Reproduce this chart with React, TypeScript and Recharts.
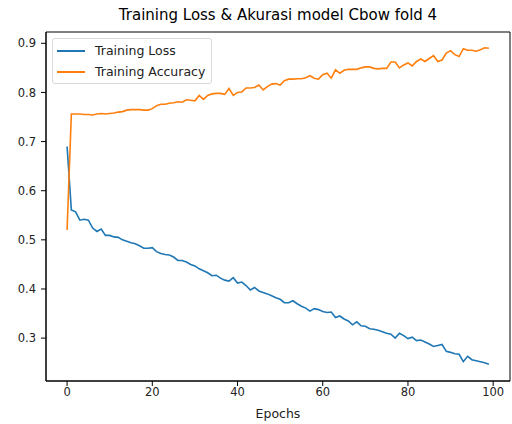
import React from "react";
import {
  LineChart,
  Line,
  XAxis,
  YAxis,
  ReferenceArea,
} from "recharts";

// Per-epoch values
const trainingLoss = [
  0.690, 0.561, 0.557, 0.540, 0.542, 0.540, 0.524, 0.517, 0.522, 0.509,
  0.509, 0.506, 0.505, 0.500, 0.497, 0.494, 0.492, 0.488, 0.483, 0.483,
  0.484, 0.476, 0.472, 0.470, 0.469, 0.465, 0.458, 0.458, 0.455, 0.450,
  0.447, 0.441, 0.437, 0.433, 0.427, 0.428, 0.422, 0.418, 0.416, 0.423,
  0.412, 0.414, 0.407, 0.398, 0.403, 0.396, 0.393, 0.390, 0.386, 0.382,
  0.379, 0.372, 0.372, 0.376, 0.370, 0.365, 0.361, 0.355, 0.360, 0.358,
  0.354, 0.352, 0.353, 0.342, 0.345, 0.339, 0.335, 0.327, 0.333, 0.325,
  0.324, 0.319, 0.318, 0.316, 0.313, 0.310, 0.308, 0.300, 0.310, 0.305,
  0.299, 0.302, 0.295, 0.296, 0.292, 0.288, 0.283, 0.285, 0.287, 0.273,
  0.271, 0.268, 0.267, 0.252, 0.263, 0.256, 0.254, 0.252, 0.250, 0.247,
];

const trainingAccuracy = [
  0.520, 0.756, 0.756, 0.756, 0.755, 0.755, 0.754, 0.756, 0.757, 0.756,
  0.757, 0.758, 0.760, 0.761, 0.764, 0.765, 0.765, 0.765, 0.764, 0.764,
  0.767, 0.773, 0.776, 0.776, 0.778, 0.779, 0.781, 0.780, 0.785, 0.784,
  0.783, 0.794, 0.786, 0.794, 0.797, 0.798, 0.798, 0.796, 0.808, 0.794,
  0.800, 0.801, 0.809, 0.809, 0.810, 0.815, 0.805, 0.812, 0.817, 0.818,
  0.815, 0.824, 0.827, 0.827, 0.828, 0.828, 0.830, 0.834, 0.829, 0.827,
  0.836, 0.839, 0.829, 0.846, 0.839, 0.845, 0.847, 0.847, 0.847, 0.850,
  0.852, 0.852, 0.849, 0.848, 0.849, 0.849, 0.862, 0.862, 0.850, 0.856,
  0.860, 0.854, 0.863, 0.868, 0.863, 0.869, 0.875, 0.863, 0.866, 0.880,
  0.885, 0.877, 0.873, 0.889, 0.886, 0.886, 0.884, 0.887, 0.891, 0.890,
];

const xTicks = [0, 20, 40, 60, 80, 100];
const yTicks = [0.3, 0.4, 0.5, 0.6, 0.7, 0.8, 0.9];

const seriesNames = ["Training Loss", "Training Accuracy"];
const seriesColors = ["#1f77b4", "#ff7f0e"];

const data = trainingLoss.map((loss, i) => ({
  epoch: i,
  loss,
  acc: trainingAccuracy[i],
}));

const X_DOMAIN: [number, number] = [-4.95, 103.95];
const Y_DOMAIN: [number, number] = [0.2127, 0.923];
const FONT = "DejaVu Sans";

const App: React.FC = () => {
  return (
    <div
      style={{
        position: "absolute",
        left: 0,
        top: 0,
        width: 512,
        height: 424,
        background: "#fff",
        fontFamily: FONT,
      }}
    >
      {/* Title */}
      <div
        style={{
          position: "absolute",
          left: 46,
          width: 464,
          top: 6,
          textAlign: "center",
          fontSize: 15,
          color: "#000",
        }}
      >
        Training Loss &amp; Akurasi model Cbow fold 4
      </div>

      <LineChart
        width={512}
        height={424}
        data={data}
        margin={{ top: 32, right: 2, left: 0, bottom: 0 }}
      >
        <XAxis
          dataKey="epoch"
          type="number"
          domain={X_DOMAIN}
          ticks={xTicks}
          allowDataOverflow
          height={43}
          stroke="#000"
          tickSize={5}
          tickMargin={2}
          tick={{ fill: "#222", fontSize: 11.5, fontFamily: FONT }}
          label={{
            value: "Epochs",
            position: "insideBottom",
            offset: 6,
            fill: "#222",
            fontSize: 12.5,
            fontFamily: FONT,
          }}
        />
        <YAxis
          type="number"
          domain={Y_DOMAIN}
          ticks={yTicks}
          allowDataOverflow
          width={46}
          stroke="#000"
          tickSize={5}
          tickMargin={5}
          tickFormatter={(v: number) => v.toFixed(1)}
          tick={{ fill: "#222", fontSize: 11.5, fontFamily: FONT }}
        />
        {/* axes frame */}
        <ReferenceArea
          x1={X_DOMAIN[0]}
          x2={X_DOMAIN[1]}
          y1={Y_DOMAIN[0]}
          y2={Y_DOMAIN[1]}
          fill="none"
          fillOpacity={0}
          stroke="#000"
          strokeOpacity={1}
          strokeWidth={1}
        />
        <Line
          type="linear"
          dataKey="loss"
          name={seriesNames[0]}
          stroke={seriesColors[0]}
          strokeWidth={1.6}
          dot={false}
          isAnimationActive={false}
        />
        <Line
          type="linear"
          dataKey="acc"
          name={seriesNames[1]}
          stroke={seriesColors[1]}
          strokeWidth={1.6}
          dot={false}
          isAnimationActive={false}
        />
      </LineChart>

      {/* Legend, matplotlib style */}
      <div
        style={{
          position: "absolute",
          left: 52,
          top: 38,
          border: "1px solid #d9d9d9",
          borderRadius: 3,
          background: "rgba(255,255,255,0.85)",
          padding: "1px 6px 1px 4px",
          fontSize: 12.5,
          color: "#222",
        }}
      >
        {seriesNames.map((name, i) => (
          <div
            key={name}
            style={{ display: "flex", alignItems: "center", height: 21 }}
          >
            <span
              style={{
                display: "inline-block",
                width: 28,
                height: 0,
                borderTop: `2px solid ${seriesColors[i]}`,
                marginRight: 10,
              }}
            />
            <span>{name}</span>
          </div>
        ))}
      </div>
    </div>
  );
};

export default App;
